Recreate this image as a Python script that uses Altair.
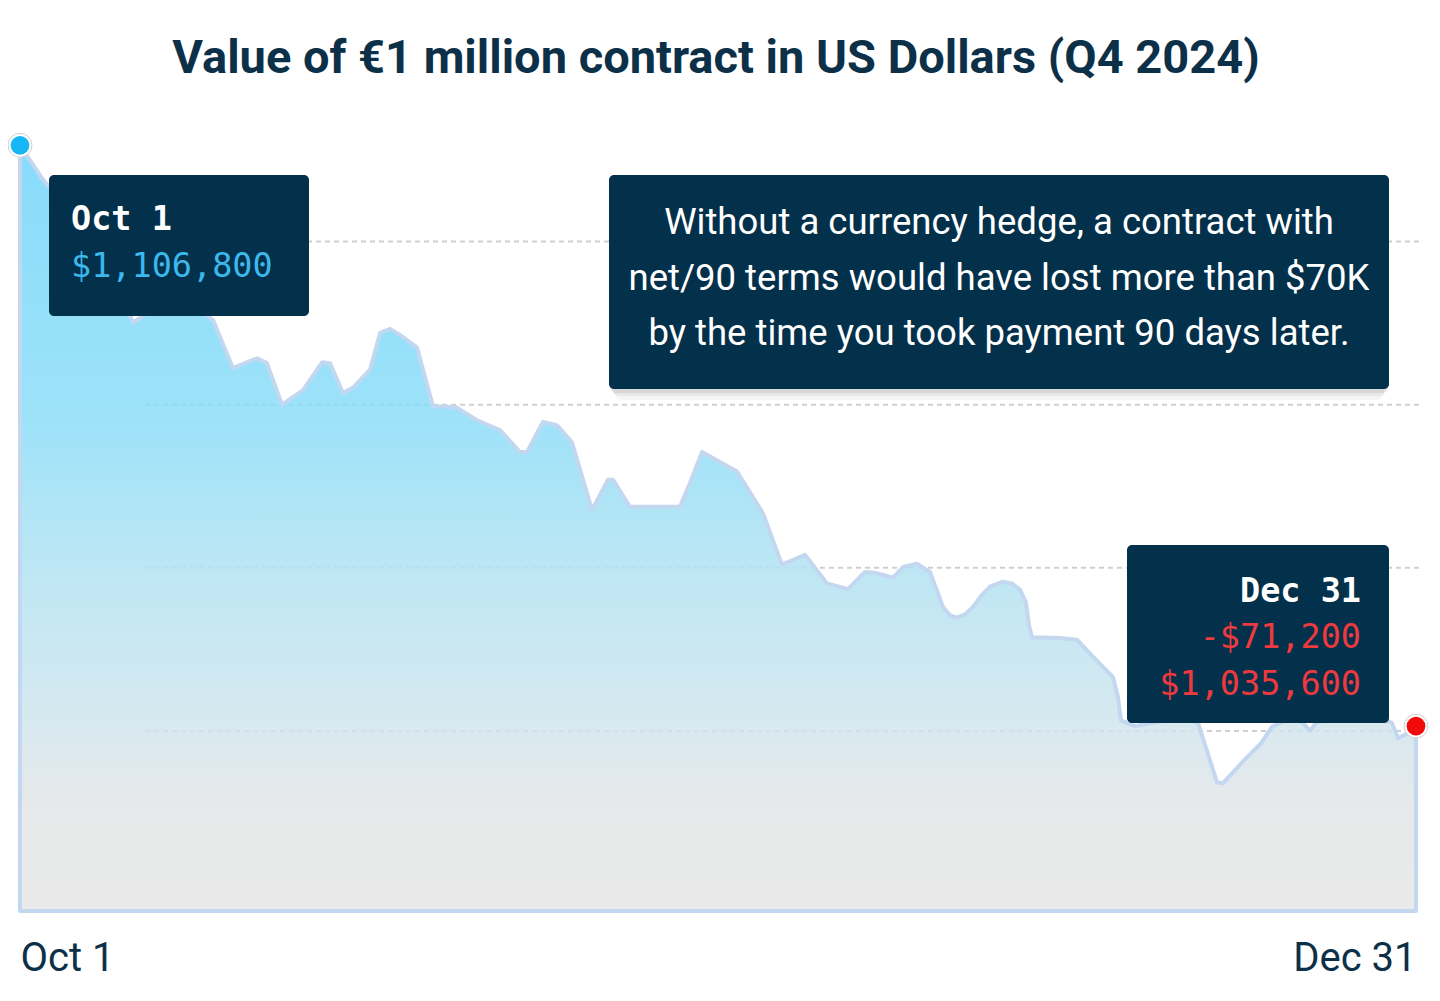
import altair as alt
import pandas as pd

# ---- data ----
day_offsets = [0, 1.50, 2.61, 3.91, 5.21, 6.39, 7.37, 8.47, 10.10, 11.41, 12.58, 13.88, 15.45, 16.10,
               17.08, 18.45, 19.69, 20.21, 21.06, 21.71, 22.82, 23.47, 24.12, 24.97, 25.88, 26.92,
               28.42, 29.79, 31.29, 32.59, 33.05, 34.09, 35.00, 35.98, 37.29, 38.33, 38.66, 39.76,
               43.02, 43.67, 44.46, 46.74, 48.43, 49.67, 51.17, 52.61, 53.97, 55.08, 55.73, 56.91,
               57.56, 58.47, 59.32, 60.17, 60.62, 61.08, 61.60, 62.12, 62.71, 63.23, 64.08, 64.66,
               65.19, 65.58, 65.77, 65.97, 67.79, 68.90, 69.95, 71.25, 71.57, 71.77, 72.68, 74.31,
               75.94, 76.79, 78.03, 78.42, 79.79, 80.90, 81.61, 82.79, 83.63, 84.09, 84.48, 86.37,
               88.33, 89.43, 89.83, 90.54, 91]
usd_values = [1106800, 1102600, 1100100, 1096700, 1093400, 1089100, 1085100, 1086400, 1087200, 1086900,
              1085400, 1079500, 1080700, 1080100, 1075000, 1076800, 1080200, 1080100, 1076400, 1077100,
              1079300, 1083800, 1084300, 1083300, 1082000, 1074800, 1074700, 1073100, 1071900, 1069200,
              1069200, 1072900, 1072500, 1070400, 1062100, 1065800, 1065800, 1062500, 1062500, 1065400,
              1069200, 1066800, 1061700, 1055400, 1056600, 1053100, 1052400, 1054500, 1054400, 1053800,
              1055100, 1055500, 1054500, 1050200, 1049200, 1048900, 1049300, 1050200, 1051700, 1052700,
              1053300, 1053100, 1052300, 1050700, 1048000, 1046500, 1046400, 1046200, 1044100, 1041600,
              1039200, 1036300, 1035600, 1036200, 1036500, 1036000, 1028700, 1028600, 1031400, 1033500,
              1035500, 1036600, 1036000, 1035000, 1036000, 1037300, 1036800, 1036000, 1034100, 1034800,
              1035600]
grid_values = [1035000, 1055000, 1075000, 1095000]

title_text = "Value of €1 million contract in US Dollars (Q4 2024)"
note_lines = ["Without a currency hedge, a contract with",
              "net/90 terms would have lost more than $70K",
              "by the time you took payment 90 days later."]
start_label = ["Oct 1", "$1,106,800"]
end_label = ["Dec 31", "-$71,200", "$1,035,600"]

Y_MIN, Y_MAX = 1012930, 1107090

dates = pd.Timestamp("2024-10-01") + pd.to_timedelta(day_offsets, unit="D")
df = pd.DataFrame({"date": dates, "value": usd_values})
ends = pd.DataFrame({"date": [dates[0], dates[-1]],
                     "value": [usd_values[0], usd_values[-1]],
                     "kind": ["start", "end"]})
grid_df = pd.DataFrame({"value": grid_values})

NAVY = "#03304a"
TEXT_NAVY = "#0d3049"
MONO = "DejaVu Sans Mono"

x_scale = alt.Scale(domain=[alt.DateTime(year=2024, month=10, date=1),
                            alt.DateTime(year=2024, month=12, date=31)], nice=False)
y_scale = alt.Scale(domain=[Y_MIN, Y_MAX], nice=False, zero=False)

x_axis = alt.Axis(values=[alt.DateTime(year=2024, month=10, date=1),
                          alt.DateTime(year=2024, month=12, date=31)],
                  format="%b %-d", labelFlush=True, labelFontSize=40, labelFont="Roboto",
                  labelColor=TEXT_NAVY, labelPadding=59, labelBaseline="alphabetic",
                  ticks=False, tickSize=0, domain=False, grid=False, title=None)

one = alt.InlineData(values=[{"k": 0}])

grid = alt.Chart(grid_df).mark_rule(color="#cfcfcf", strokeWidth=2, strokeDash=[5, 4]).encode(
    y=alt.Y("value:Q", scale=y_scale, axis=None),
    x=alt.value(125), x2=alt.value(1401))

area = alt.Chart(df).mark_area(
    fill=alt.Gradient(gradient="linear",
                      stops=[alt.GradientStop(color="#73d5f9", offset=0),
                             alt.GradientStop(color="#8cddf8", offset=0.36),
                             alt.GradientStop(color="#b1e2f2", offset=0.55),
                             alt.GradientStop(color="#d1e5ed", offset=0.76),
                             alt.GradientStop(color="#e2e5e6", offset=0.86),
                             alt.GradientStop(color="#e6e6e6", offset=1)],
                      x1=0, x2=0, y1=0, y2=1),
    fillOpacity=0.85, stroke="#c3d7f1", strokeWidth=4, strokeJoin="round", interpolate="linear"
).encode(
    x=alt.X("date:T", scale=x_scale, axis=x_axis),
    y=alt.Y("value:Q", scale=y_scale, axis=None),
    y2=alt.datum(Y_MIN))


def box(x1, x2, y1, y2, fill, opacity=1.0, r=5):
    return alt.Chart(one).mark_rect(fill=fill, opacity=opacity, cornerRadius=r).encode(
        x=alt.value(x1), x2=alt.value(x2), y=alt.value(y1), y2=alt.value(y2))


def label(txt, x, y, color, size, font, align, weight="normal"):
    return alt.Chart(one).mark_text(text=txt, color=color, fontSize=size, font=font, align=align,
                                    baseline="alphabetic", fontWeight=weight).encode(
        x=alt.value(x), y=alt.value(y))


layers = [grid, area]
# shadow for note box
layers += [box(594, 1364, 40, 257, "#000000", 0.04, 8),
           box(592, 1366, 38, 253, "#000000", 0.05, 7),
           box(590, 1368, 36, 250, "#000000", 0.07, 6)]
layers += [box(29, 289, 32, 173, NAVY), box(589, 1369, 32, 246, NAVY), box(1107, 1369, 402, 580, NAVY)]

layers.append(label(title_text, 696, -70, TEXT_NAVY, 47, "Roboto", "center", "bold"))
layers.append(label(start_label[0], 51, 87, "#ffffff", 33.5, MONO, "left", "bold"))
layers.append(label(start_label[1], 51, 134, "#3cb8ec", 33.5, MONO, "left"))
for i, line in enumerate(note_lines):
    layers.append(label(line, 979, 91 + 55.5 * i, "#ffffff", 36.5, "Roboto", "center"))
layers.append(label(end_label[0], 1341, 459, "#ffffff", 33.5, MONO, "right", "bold"))
layers.append(label(end_label[1], 1341, 505, "#ee3a3f", 33.5, MONO, "right"))
layers.append(label(end_label[2], 1341, 552, "#ee3a3f", 33.5, MONO, "right"))

ring = alt.Chart(ends).mark_point(shape="circle", filled=True, fill="#ffffff", stroke="#cfcfcf",
                                  strokeWidth=1, size=570, opacity=1).encode(
    x=alt.X("date:T", scale=x_scale), y=alt.Y("value:Q", scale=y_scale))
dots = alt.Chart(ends).mark_point(shape="circle", filled=True, size=350, opacity=1).encode(
    x=alt.X("date:T", scale=x_scale), y=alt.Y("value:Q", scale=y_scale),
    color=alt.Color("kind:N", scale=alt.Scale(domain=["start", "end"], range=["#17b7f5", "#f00a0a"]),
                    legend=None))
layers += [ring, dots]

chart = alt.layer(*layers).properties(
    width=1396, height=768,
    padding={"left": 12, "top": 135, "right": 16, "bottom": 90},
    autosize=alt.AutoSizeParams(type="none"),
    background="#ffffff",
).configure_view(stroke=None)

chart.save("out.html", embed_options={"renderer": "svg", "actions": False})
